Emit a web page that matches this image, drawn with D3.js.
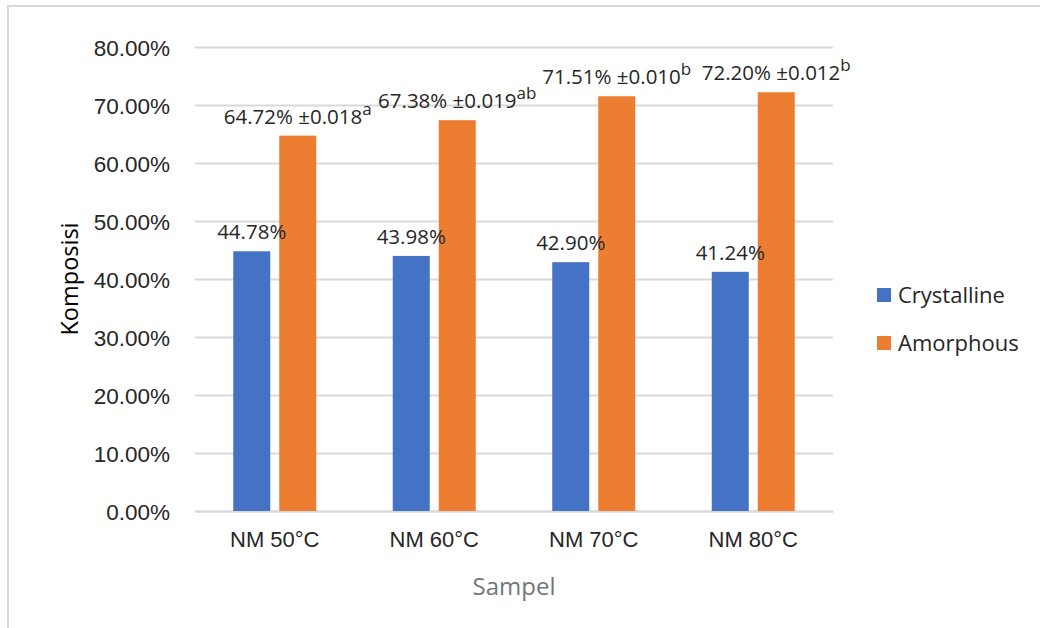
<!DOCTYPE html>
<html>
<head>
<meta charset="utf-8">
<script src="https://cdn.jsdelivr.net/npm/d3@7/dist/d3.min.js"></script>
<style>
  html, body { margin: 0; padding: 0; background: #fff; }
  svg { display: block; font-family: "Open Sans", "Noto Sans", sans-serif; }
</style>
</head>
<body>
<svg id="chart" width="1040" height="628"></svg>
<script>
// Sample groups and composition series (percent)
const categories = ["NM 50°C", "NM 60°C", "NM 70°C", "NM 80°C"];
const seriesNames = ["Crystalline", "Amorphous"];
const crystalline = [44.78, 43.98, 42.90, 41.24];
const amorphous = [64.72, 67.38, 71.51, 72.20];
const amorphousSD = [0.018, 0.019, 0.010, 0.012];
const amorphousGroup = ["a", "ab", "b", "b"];
const yTicks = [0, 10, 20, 30, 40, 50, 60, 70, 80];
const colors = ["#4472C4", "#ED7D31"];

const svg = d3.select("#chart");

// outer chart frame
svg.append("rect")
  .attr("x", 8).attr("y", 6)
  .attr("width", 1200).attr("height", 800)
  .attr("fill", "none").attr("stroke", "#d9d9d9").attr("stroke-width", 2);

const plot = { left: 195, right: 833, top: 47, bottom: 511 };

const y = d3.scaleLinear().domain([0, 80]).range([plot.bottom, plot.top]);
const x = d3.scaleBand().domain(categories).range([plot.left, plot.right]).padding(0);
const groupWidth = 83;
const xs = d3.scaleBand().domain(seriesNames)
  .range([(x.bandwidth() - groupWidth) / 2, (x.bandwidth() + groupWidth) / 2])
  .paddingInner(0.1957).paddingOuter(0);

// gridlines and value axis labels
const yAxis = d3.axisLeft(y).tickValues(yTicks)
  .tickSize(-(plot.right - plot.left))
  .tickPadding(25)
  .tickFormat(d => d.toFixed(2) + "%");
const gy = svg.append("g").attr("transform", `translate(${plot.left},0)`).call(yAxis);
gy.select(".domain").remove();
gy.selectAll(".tick line").attr("stroke", "#d9d9d9").attr("stroke-width", 2);
gy.selectAll(".tick text")
  .attr("fill", "#262626").style("font-size", "22.5px")
  .attr("dy", "0.36em");

// category axis
const xAxis = d3.axisBottom(x).tickSize(0).tickPadding(28);
const gx = svg.append("g").attr("transform", `translate(0,${plot.bottom})`).call(xAxis);
gx.select(".domain").attr("stroke", "#d9d9d9").attr("stroke-width", 2);
gx.selectAll(".tick text").attr("fill", "#262626").style("font-size", "22px").attr("dy", "0.36em");

// bars
const rows = categories.map((c, i) => ({
  cat: c,
  vals: [
    { s: seriesNames[0], v: crystalline[i] },
    { s: seriesNames[1], v: amorphous[i], sd: amorphousSD[i], grp: amorphousGroup[i] }
  ]
}));

const groups = svg.append("g").selectAll("g").data(rows).join("g")
  .attr("transform", d => `translate(${x(d.cat)},0)`);

groups.selectAll("rect").data(d => d.vals).join("rect")
  .attr("x", d => xs(d.s))
  .attr("width", xs.bandwidth())
  .attr("y", d => y(d.v))
  .attr("height", d => y(0) - y(d.v))
  .attr("fill", (d, i) => colors[i]);

// value labels
const labels = groups.selectAll("text.val").data(d => d.vals).join("text")
  .attr("class", "val")
  .attr("x", d => xs(d.s) + xs.bandwidth() / 2)
  .attr("y", d => y(d.v) - 12)
  .attr("text-anchor", "middle")
  .attr("fill", "#262626")
  .style("font-size", "20.5px");

labels.filter(d => d.sd === undefined).text(d => d.v.toFixed(2) + "%");
labels.filter(d => d.sd !== undefined).each(function (d) {
  const t = d3.select(this);
  t.append("tspan").text(d.v.toFixed(2) + "% \u00B1" + d.sd.toFixed(3));
  t.append("tspan").attr("dy", -9).style("font-size", "17px").text(d.grp);
});

// axis titles
svg.append("text")
  .attr("transform", `translate(78,${(plot.top + plot.bottom) / 2}) rotate(-90)`)
  .attr("text-anchor", "middle")
  .attr("fill", "#000").style("font-size", "23.5px")
  .text("Komposisi");

svg.append("text")
  .attr("x", (plot.left + plot.right) / 2).attr("y", 595)
  .attr("text-anchor", "middle")
  .attr("fill", "#767676").style("font-size", "24px")
  .text("Sampel");

// legend
const legend = svg.append("g").selectAll("g").data(seriesNames).join("g")
  .attr("transform", (d, i) => `translate(877,${295 + i * 48})`);
legend.append("rect")
  .attr("x", 0).attr("y", -7).attr("width", 14).attr("height", 14)
  .attr("fill", (d, i) => colors[i]);
legend.append("text")
  .attr("x", 21).attr("dy", "0.36em")
  .attr("fill", "#262626").style("font-size", "22px")
  .text(d => d);
</script>
</body>
</html>
